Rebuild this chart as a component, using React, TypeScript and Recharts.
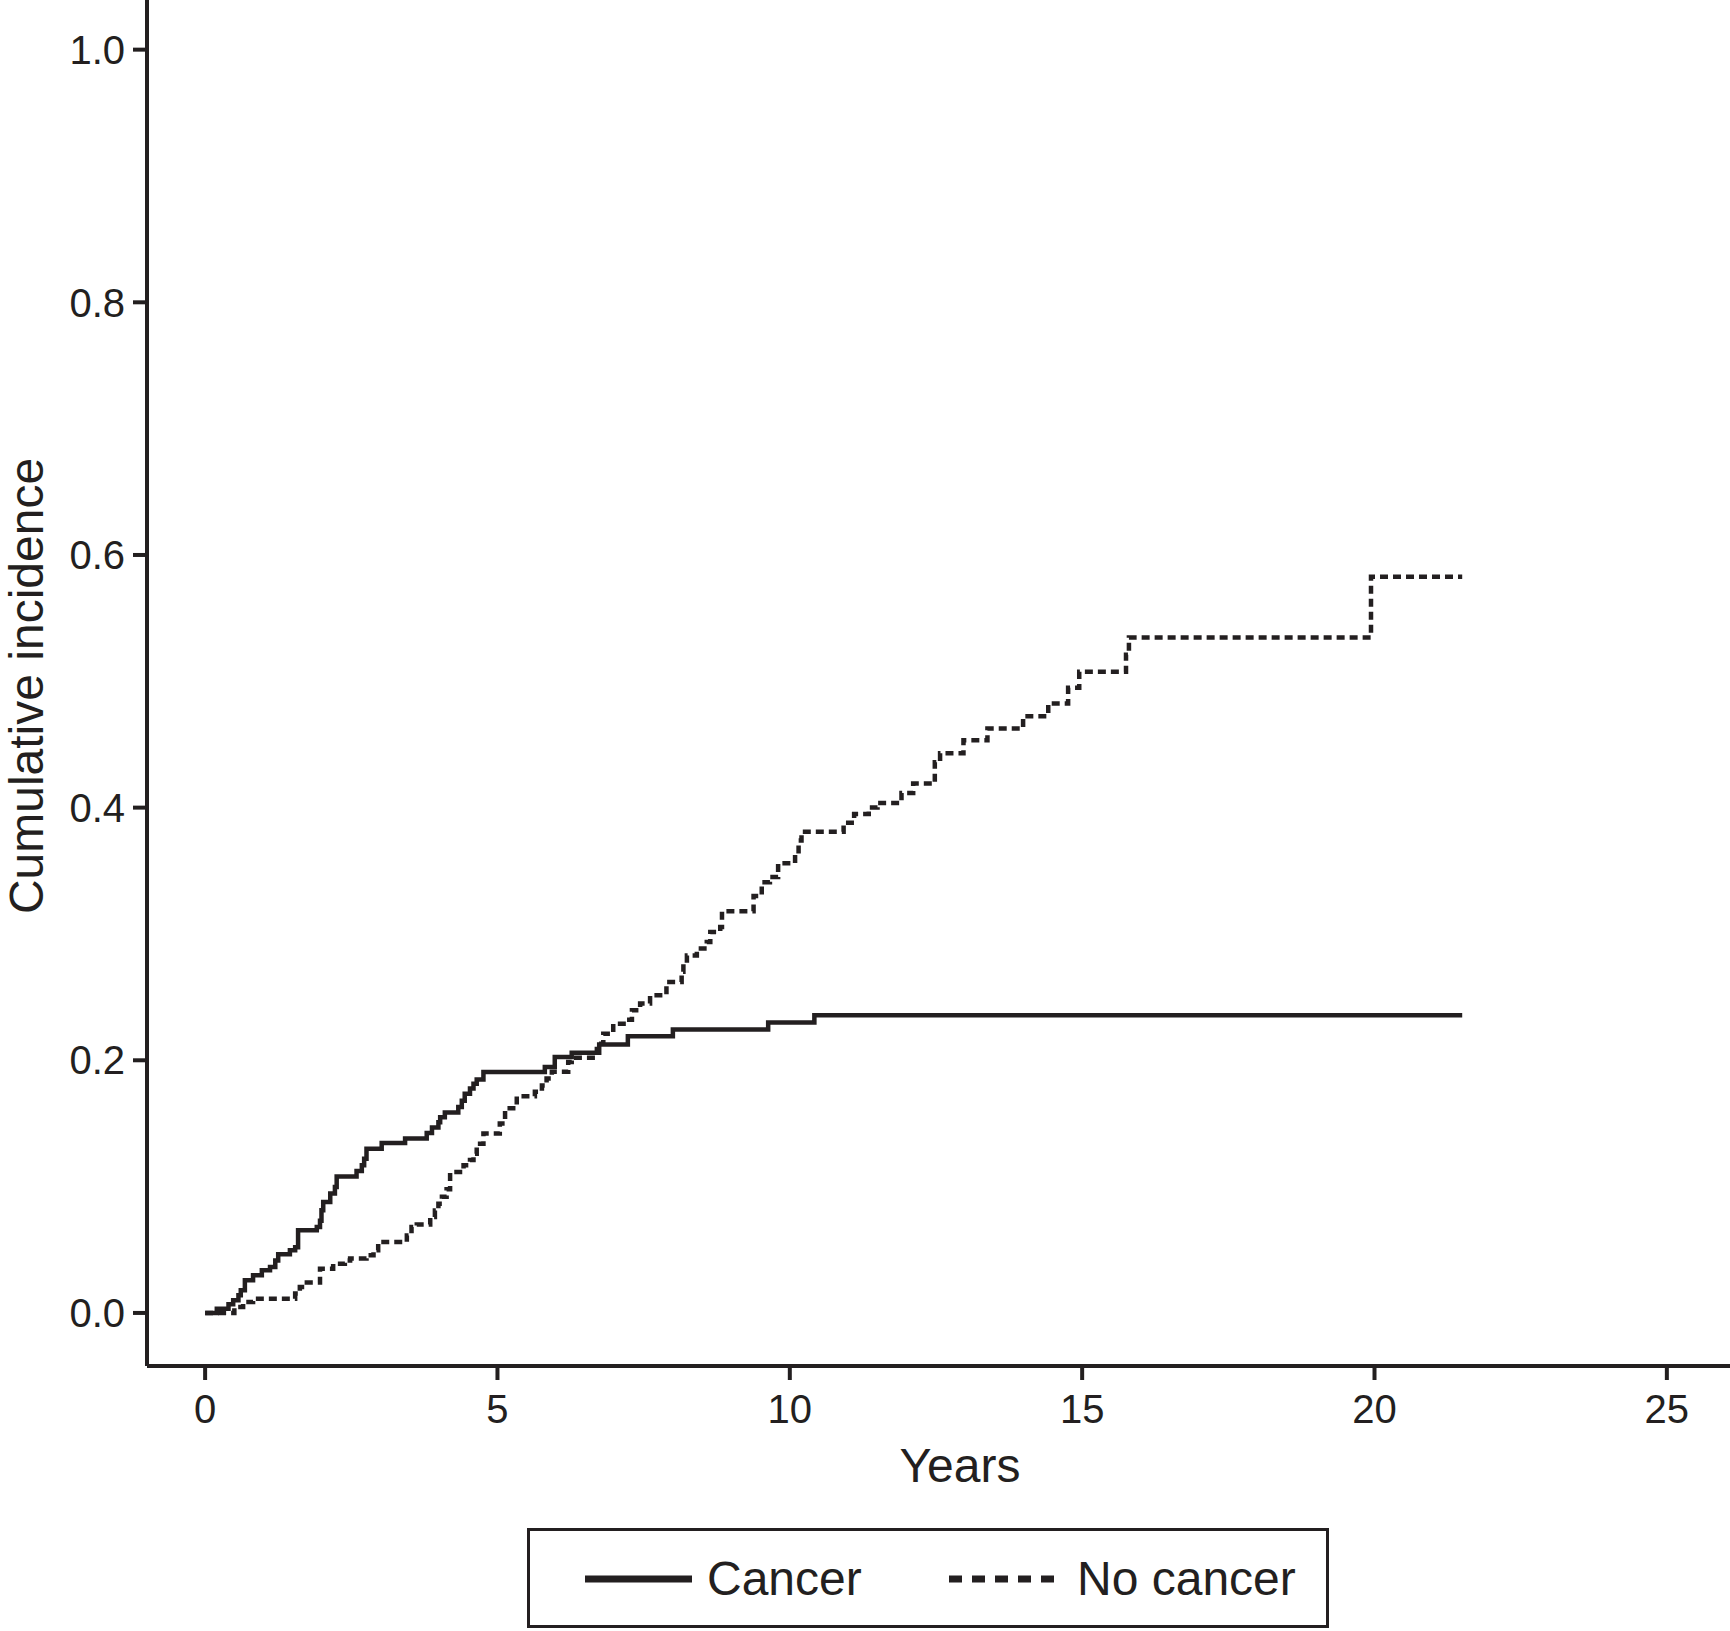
import React from 'react';
import { LineChart, Line, XAxis, YAxis, Label } from 'recharts';

// Cumulative incidence step curves
const cancerYears = [
  0, 0.2, 0.4, 0.48, 0.57, 0.61, 0.68, 0.82, 0.97, 1.11, 1.2, 1.25, 1.45, 1.54, 1.59,
  1.91, 1.965, 1.99, 2.02, 2.14, 2.22, 2.25, 2.59, 2.68, 2.72, 2.76, 3.02, 3.42, 3.79,
  3.88, 3.99, 4.02, 4.1, 4.33, 4.39, 4.44, 4.53, 4.59, 4.645, 4.76, 5.81, 5.98, 6.27,
  6.74, 7.23, 8.0, 9.63, 10.42, 21.5,
];
const cancerValues = [
  0, 0.0034, 0.0068, 0.01, 0.014, 0.018, 0.0258, 0.0298, 0.0337, 0.0364, 0.0416, 0.0464,
  0.0496, 0.052, 0.0654, 0.068, 0.073, 0.0812, 0.0878, 0.0945, 0.0997, 0.108, 0.1124,
  0.117, 0.122, 0.13, 0.1345, 0.138, 0.1425, 0.1467, 0.151, 0.155, 0.1586, 0.163, 0.168,
  0.1736, 0.1776, 0.1815, 0.1847, 0.1907, 0.1947, 0.2026, 0.206, 0.2124, 0.219, 0.2243,
  0.23, 0.2356, 0.2356,
];

const noCancerYears = [
  0, 0.5, 0.65, 0.82, 1.54, 1.62, 1.74, 1.965, 2.19, 2.39, 2.48, 2.76, 2.88, 2.96, 3.45,
  3.53, 3.62, 3.85, 3.93, 3.99, 4.05, 4.13, 4.19, 4.42, 4.53, 4.59, 4.645, 4.76, 5.04,
  5.13, 5.33, 5.64, 5.76, 5.84, 5.93, 6.21, 6.27, 6.7, 6.81, 6.98, 7.21, 7.3, 7.44, 7.61,
  7.89, 8.15, 8.18, 8.24, 8.41, 8.58, 8.64, 8.81, 8.84, 9.38, 9.52, 9.66, 9.8, 10.09,
  10.15, 10.2, 10.92, 11.1, 11.35, 11.5, 11.91, 12.11, 12.48, 12.57, 12.97, 13.38, 13.99,
  14.42, 14.76, 14.95, 15.75, 15.8, 19.94, 21.5,
];
const noCancerValues = [
  0, 0.0047, 0.0086, 0.0113, 0.0153, 0.0205, 0.024, 0.035, 0.039, 0.0416, 0.043, 0.0456,
  0.0496, 0.0561, 0.0614, 0.068, 0.07, 0.076, 0.081, 0.0865, 0.092, 0.098, 0.1115, 0.117,
  0.121, 0.126, 0.134, 0.142, 0.15, 0.162, 0.1715, 0.175, 0.18, 0.1855, 0.191, 0.1987,
  0.202, 0.213, 0.221, 0.229, 0.232, 0.2396, 0.245, 0.2515, 0.262, 0.27, 0.2766, 0.283,
  0.2885, 0.2937, 0.3016, 0.3056, 0.318, 0.33, 0.341, 0.345, 0.356, 0.3637, 0.374, 0.381,
  0.388, 0.395, 0.4, 0.4037, 0.4116, 0.419, 0.436, 0.443, 0.4534, 0.4626, 0.4724, 0.4824,
  0.4948, 0.5076, 0.521, 0.5347, 0.5827, 0.5827,
];

const xTicks = [0, 5, 10, 15, 20, 25];
const yTicks = [0, 0.2, 0.4, 0.6, 0.8, 1.0];

const cancerData = cancerYears.map((t, i) => ({ t, v: cancerValues[i] }));
const noCancerData = noCancerYears.map((t, i) => ({ t, v: noCancerValues[i] }));

const INK = '#231f20';
const FONT = '"Liberation Sans", Arial, Helvetica, sans-serif';

function YTitle() {
  return (
    <text
      x={43}
      y={686}
      transform="rotate(-90 43 686)"
      textAnchor="middle"
      fill={INK}
      fontSize={48}
      fontFamily={FONT}
    >
      Cumulative incidence
    </text>
  );
}

function XTitle() {
  return (
    <text x={960} y={1482} textAnchor="middle" fill={INK} fontSize={48} fontFamily={FONT}>
      Years
    </text>
  );
}

export default function App() {
  return (
    <div style={{ position: 'absolute', left: 0, top: 0, width: 1730, height: 1631, background: '#fff' }}>
      <LineChart width={1730} height={1631} margin={{ top: 0, right: 0, bottom: 0, left: 0 }}>
        <XAxis
          type="number"
          dataKey="t"
          domain={[-0.994, 26.08]}
          allowDataOverflow
          ticks={xTicks}
          height={265}
          tickSize={14}
          tickMargin={15}
          axisLine={{ stroke: INK, strokeWidth: 4 }}
          tickLine={{ stroke: INK, strokeWidth: 4 }}
          tick={{ fill: INK, fontSize: 40, fontFamily: FONT }}
        >
          <Label content={<XTitle />} />
        </XAxis>
        <YAxis
          type="number"
          domain={[-0.042, 1.0393]}
          allowDataOverflow
          ticks={yTicks}
          width={147}
          tickSize={14}
          tickMargin={8}
          tickFormatter={(v: number) => v.toFixed(1)}
          axisLine={{ stroke: INK, strokeWidth: 4 }}
          tickLine={{ stroke: INK, strokeWidth: 4 }}
          tick={{ fill: INK, fontSize: 40, fontFamily: FONT }}
        >
          <Label content={<YTitle />} />
        </YAxis>
        <Line
          data={noCancerData}
          dataKey="v"
          type="stepAfter"
          stroke={INK}
          strokeWidth={4.5}
          strokeDasharray="8 5"
          dot={false}
          isAnimationActive={false}
        />
        <Line
          data={cancerData}
          dataKey="v"
          type="stepAfter"
          stroke={INK}
          strokeWidth={4.5}
          dot={false}
          isAnimationActive={false}
        />
      </LineChart>

      <svg
        width={1730}
        height={1631}
        style={{ position: 'absolute', left: 0, top: 0, pointerEvents: 'none' }}
      >
        <rect x={528.5} y={1529.5} width={799} height={97} fill="none" stroke={INK} strokeWidth={3} />
        <line x1={585} y1={1579} x2={692} y2={1579} stroke={INK} strokeWidth={7} />
        <text x={707} y={1595} fill={INK} fontSize={48} fontFamily={FONT}>
          Cancer
        </text>
        <line x1={949} y1={1579} x2={1057} y2={1579} stroke={INK} strokeWidth={7} strokeDasharray="13 10" />
        <text x={1077} y={1595} fill={INK} fontSize={48} fontFamily={FONT}>
          No cancer
        </text>
      </svg>
    </div>
  );
}
